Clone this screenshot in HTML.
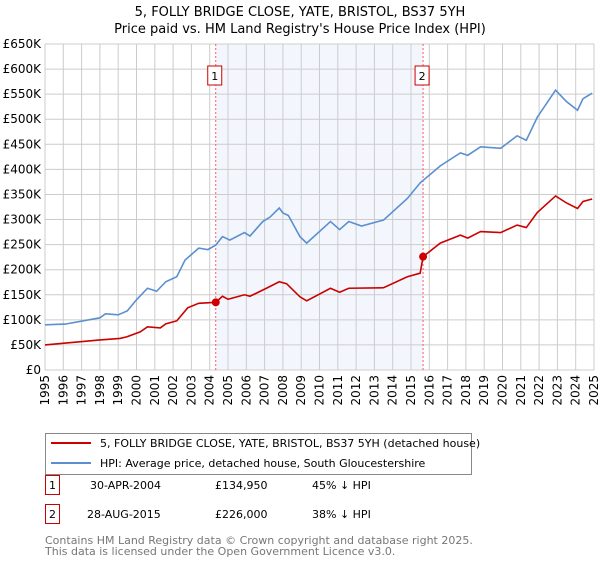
<!DOCTYPE html>
<html><head><meta charset="utf-8"><style>
body{margin:0;background:#fff;font-family:"Liberation Sans","DejaVu Sans",sans-serif;}
svg text{font-family:"DejaVu Sans","Liberation Sans",sans-serif;}
</style></head><body>
<svg id="chart" width="600" height="560" xmlns="http://www.w3.org/2000/svg">
<text x="300" y="16" text-anchor="middle" font-size="13" fill="#000">5, FOLLY BRIDGE CLOSE, YATE, BRISTOL, BS37 5YH</text>
<text x="300" y="33" text-anchor="middle" font-size="13" fill="#000">Price paid vs. HM Land Registry's House Price Index (HPI)</text>
<g id="plot"></g>
<g>
<rect x="45.5" y="433.5" width="426" height="41" fill="#fff" stroke="#888"/>
<line x1="51" y1="443" x2="91" y2="443" stroke="#cc0000" stroke-width="2"/>
<text x="100" y="447" font-size="11">5, FOLLY BRIDGE CLOSE, YATE, BRISTOL, BS37 5YH (detached house)</text>
<line x1="51" y1="463" x2="91" y2="463" stroke="#5b8fd0" stroke-width="2"/>
<text x="100" y="467" font-size="11">HPI: Average price, detached house, South Gloucestershire</text>
</g>
<g font-size="11">
<rect x="45.5" y="475.5" width="14" height="19" fill="#fff" stroke="#cc0000"/><text x="52.5" y="489" text-anchor="middle">1</text>
<text x="90" y="489">30-APR-2004</text><text x="215" y="489">£134,950</text><text x="312" y="489">45% ↓ HPI</text>
<rect x="45.5" y="504.5" width="14" height="19" fill="#fff" stroke="#cc0000"/><text x="52.5" y="518" text-anchor="middle">2</text>
<text x="87" y="518">28-AUG-2015</text><text x="215" y="518">£226,000</text><text x="312" y="518">38% ↓ HPI</text>
</g>
<text x="45" y="544" font-size="11" fill="#777">Contains HM Land Registry data © Crown copyright and database right 2025.</text>
<text x="45" y="555" font-size="11" fill="#777">This data is licensed under the Open Government Licence v3.0.</text>
</svg>
<script>
const yTicks=[0,50,100,150,200,250,300,350,400,450,500,550,600,650];
const yTickLabels=["£0","£50K","£100K","£150K","£200K","£250K","£300K","£350K","£400K","£450K","£500K","£550K","£600K","£650K"];
const years=[1995,1996,1997,1998,1999,2000,2001,2002,2003,2004,2005,2006,2007,2008,2009,2010,2011,2012,2013,2014,2015,2016,2017,2018,2019,2020,2021,2022,2023,2024,2025];
const hpiX=[1995,1996.1,1998,1998.3,1999,1999.5,2000,2000.6,2001.1,2001.6,2002.2,2002.65,2003.4,2003.9,2004.33,2004.7,2005.1,2005.9,2006.2,2006.9,2007.3,2007.8,2008,2008.3,2008.93,2009.3,2010.6,2011.1,2011.6,2012.3,2013.5,2014.8,2015.5,2016.6,2017.7,2018.1,2018.8,2019.9,2020.8,2021.3,2021.9,2022.9,2023.5,2024.1,2024.4,2024.9];
const hpiY=[90,91.5,104,112,110,118,140,163,157,176,186,219,243,240,249,266,259,274,267,296,305,323,313,308,266,253,296,280,296,287,299,342,373,407,433,428,445,442,467,458,504,558,535,518,541,552];
const paidX=[1995,1998,1999.1,1999.46,2000.2,2000.6,2001.3,2001.6,2002.2,2002.8,2003.4,2004.33,2004.7,2005,2005.9,2006.2,2007.1,2007.8,2008.2,2008.93,2009.3,2010.6,2011.1,2011.6,2013.5,2014.8,2015.5,2015.66,2016.6,2017.7,2018.1,2018.8,2019.9,2020.8,2021.3,2021.9,2022.9,2023.5,2024.1,2024.4,2024.9];
const paidY=[50,60,63,66,76,86,84,92,98,124,133,134.95,147,141,150,147,163,176,172,146,138,163,155,163,164,186,193,226,253,269,263,276,274,289,284,314,347,333,322,336,341];
const saleX=[2004.33,2015.66];
const saleY=[134.95,226];
const saleLabels=["1","2"];
const X0=45,X1=594,Y0=370,Y1=44;
const xs=y=>X0+(y-1995)/30*(X1-X0);
const ys=v=>Y0-v/650*(Y0-Y1);
const NS="http://www.w3.org/2000/svg";
const g=document.getElementById('plot');
function mk(t,a){const e=document.createElementNS(NS,t);for(const k in a)e.setAttribute(k,a[k]);g.appendChild(e);return e;}
let r=mk('rect',{x:xs(saleX[0]),y:Y1,width:xs(saleX[1])-xs(saleX[0]),height:Y0-Y1,fill:'#eef3fc',opacity:0.7});


years.forEach(yr=>{const l=mk('line',{x1:xs(yr),x2:xs(yr),y1:Y1,y2:Y0,stroke:'#ccc'});


const t=mk('text',{x:0,y:0,'font-size':12,'text-anchor':'end',transform:`translate(${xs(yr)+4},375) rotate(-90)`});t.textContent=yr;

});
yTicks.forEach((v,i)=>{const l=mk('line',{x1:X0,x2:X1,y1:ys(v),y2:ys(v),stroke:'#ccc'});


const t=mk('text',{x:41,y:ys(v)+4,'font-size':12,'text-anchor':'end'});t.textContent=yTickLabels[i];

});
saleX.forEach((s,i)=>{const l=mk('line',{x1:xs(s),x2:xs(s),y1:Y1,y2:Y0,stroke:'#f06060','stroke-dasharray':'2,2'});


const b=mk('rect',{x:xs(s)-8,y:66,width:14,height:19,fill:'#fff',stroke:'#cc0000'});


const t=mk('text',{x:xs(s)-1,y:80,'font-size':11,'text-anchor':'middle'});t.textContent=saleLabels[i];

});
const hp=mk('polyline',{points:hpiX.map((x,i)=>xs(x)+','+ys(hpiY[i])).join(' '),fill:'none',stroke:'#5b8fd0','stroke-width':1.6});


const pp=mk('polyline',{points:paidX.map((x,i)=>xs(x)+','+ys(paidY[i])).join(' '),fill:'none',stroke:'#cc0000','stroke-width':1.6});


saleX.forEach((s,i)=>{const c=mk('circle',{cx:xs(s),cy:ys(saleY[i]),r:4,fill:'#cc0000'});

});
</script>
</body></html>
